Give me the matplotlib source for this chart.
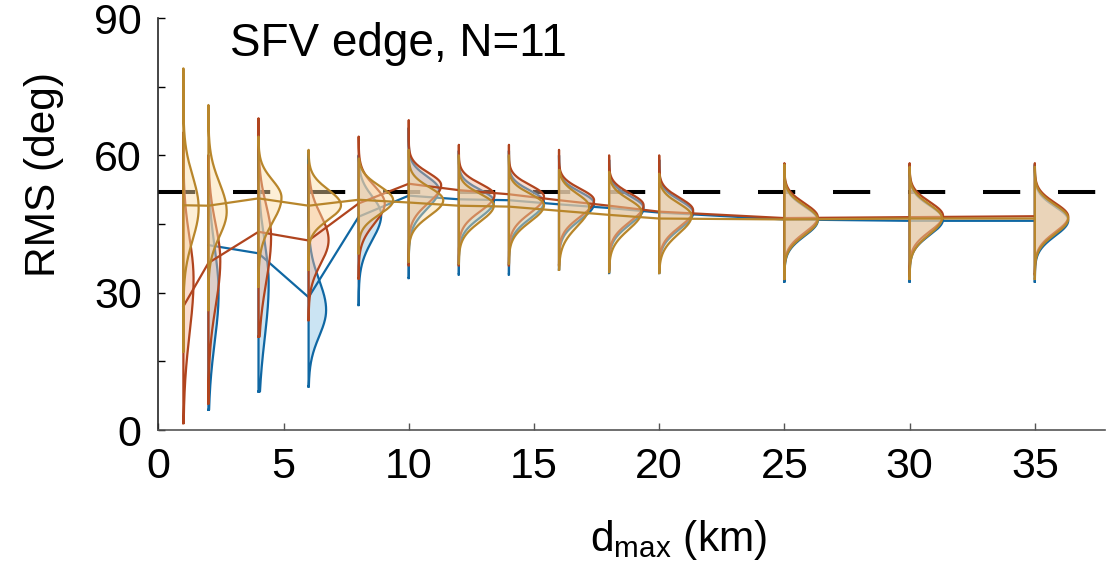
import numpy as np
import matplotlib
matplotlib.use("Agg")
import matplotlib.pyplot as plt

# d_max positions (km)
dmax = [1, 2, 4, 6, 8, 10, 12, 14, 16, 18, 20, 25, 30, 35]
nan = np.nan

# per-violin summary: peak (deg), lower/upper spread, range ends,
# and the value the connecting line passes through
blue_peak = [nan, 30, 32, 26.2, 47, 52.5, 50, 49.8, 49.5, 48.5, 47.5, 45.8, 46, 45.8]
blue_slo = [nan, 11, 12, 5.7, 5.5, 4.2, 3.6, 3.6, 3.6, 3.6, 3.6, 3.4, 3.4, 3.4]
blue_shi = [nan, 10, 9, 6.5, 4.0, 2.9, 2.5, 2.5, 2.5, 2.6, 2.7, 3.0, 3.0, 3.0]
blue_min = [nan, 4.4, 8.4, 9.5, 27.3, 33.2, 34, 34, 35, 34.3, 34.3, 32.4, 32.4, 32.4]
blue_max = [nan, 60, 62, 61, 60, 66, 61, 61, 60, 59, 59, 58, 58, 58]
blue_line = [nan, 40.4, 38.6, 29, 46.6, 51.2, 50.4, 50.2, 49.3, 48.5, 47.5, 46, 45.7, 45.7]

red_peak = [33, 37, 42.2, 41.5, 49.5, 53.5, 51.3, 51, 50.2, 49.1, 48, 46.5, 46.8, 46.6]
red_slo = [12, 10, 10, 5.2, 4.4, 3.9, 3.5, 3.6, 3.6, 3.6, 3.6, 3.4, 3.4, 3.4]
red_shi = [9, 8, 7, 5.5, 3.8, 2.7, 2.5, 2.5, 2.5, 2.6, 2.7, 3.0, 3.0, 3.0]
red_min = [1.5, 5.8, 20.4, 24, 33.1, 36, 36, 36, 36, 35, 35, 33, 33.5, 34]
red_max = [65, 60, 68.1, 58, 64.1, 67.7, 62.3, 62.3, 61.2, 60, 60, 58.3, 58.3, 58.3]
red_line = [27, 36.5, 43.3, 41.4, 49.5, 53.8, 52.4, 51.5, 50.2, 49, 47.7, 46.3, 46.5, 46.7]

gold_peak = [48.5, 47.7, 50.8, 49.1, 50.2, 50.2, 49.1, 49.1, 48.8, 47.7, 46.8, 46, 46.3, 46.2]
gold_slo = [7, 5.4, 5.5, 3.2, 3.1, 3.4, 3.6, 3.6, 4.3, 3.9, 3.9, 3.4, 3.6, 3.4]
gold_shi = [7, 6.3, 3.8, 3.4, 3.1, 2.8, 2.5, 2.5, 2.8, 2.7, 2.7, 3.0, 3.0, 3.0]
gold_min = [17.1, 26.2, 31.3, 35, 38.6, 36.8, 36.4, 36.4, 35, 34.5, 34.3, 33, 33, 33]
gold_max = [79, 71, 64.1, 61.2, 59.3, 61.2, 60, 60, 56.8, 56.4, 56, 58, 57.5, 57.5]
gold_line = [49.1, 49, 50.6, 49, 50.3, 49.7, 49, 48.8, 47.9, 47, 46.2, 46, 46.2, 46.2]

ref_rms = 52

WSCALE = 10.7   # x-units per unit of density

plt.rcParams["font.family"] = ["Liberation Sans", "DejaVu Sans"]
plt.rcParams["lines.scale_dashes"] = False

fig = plt.figure(figsize=(11.15, 5.63), dpi=100)
ax = fig.add_axes([0.142, 0.2362, 0.991 - 0.142, 0.968 - 0.2362])

ax.plot([0, 37.8], [ref_rms, ref_rms], color="black", lw=2.9,
        dashes=(26.8, 27.2), zorder=1)


def half_violin(x0, pk, slo, shi, lo, hi, lc, fc, z):
    y = np.linspace(lo, hi, 300)
    dens = np.where(y < pk, np.exp(-0.5 * ((y - pk) / slo) ** 2),
                    np.exp(-0.5 * ((y - pk) / shi) ** 2))
    dens = dens * 2 / (np.sqrt(2 * np.pi) * (slo + shi))
    xs = np.concatenate([[x0], x0 + WSCALE * dens, [x0], [x0]])
    ys = np.concatenate([[lo], y, [hi], [lo]])
    ax.fill(xs, ys, color=fc, alpha=0.45, lw=0, zorder=z)
    ax.plot(xs, ys, color=lc, lw=1.6, zorder=z + 0.1, solid_joinstyle="round")


series = [
    (blue_peak, blue_slo, blue_shi, blue_min, blue_max, blue_line, "#0F67A3", "#8CC4E6"),
    (red_peak, red_slo, red_shi, red_min, red_max, red_line, "#B0441E", "#F4B596"),
    (gold_peak, gold_slo, gold_shi, gold_min, gold_max, gold_line, "#B8862B", "#FBDDA6"),
]

for k, (pk, slo, shi, lo, hi, ln, lc, fc) in enumerate(series):
    z = 2 + k
    for i, x0 in enumerate(dmax):
        if np.isnan(pk[i]):
            continue
        half_violin(x0, pk[i], slo[i], shi[i], lo[i], hi[i], lc, fc, z)
    ax.plot(dmax, ln, color=lc, lw=1.6, zorder=z + 0.2)

ax.set_xlim(0, 37.8)
ax.set_ylim(0, 90)
ax.set_xticks(range(0, 36, 5))
ax.set_yticks([0, 30, 60, 90])
ax.set_yticks([15, 45, 75], minor=True)
ax.tick_params(axis="both", which="both", direction="in", length=5, width=1,
               labelsize=31, pad=12)
ax.tick_params(axis="x", colors="#555555", labelcolor="black")
ax.spines["top"].set_visible(False)
ax.spines["right"].set_visible(False)
ax.spines["left"].set_color("#262626")
ax.spines["bottom"].set_color("#555555")
ax.spines["left"].set_linewidth(1.2)
ax.spines["bottom"].set_linewidth(1.2)

ax.set_ylabel("RMS (deg)", fontsize=30.5)
ax.yaxis.set_label_coords(-0.121, 0.619)
ax.set_xlabel(r"d$_{\mathregular{max}}$ (km)", fontsize=30.5)
ax.xaxis.set_label_coords(0.549, -0.267)
ax.xaxis.label.set_va("center")
ax.yaxis.label.set_va("center")
ax.text(2.85, 84.3, "SFV edge, N=11", fontsize=33, va="center", ha="left")

fig.savefig("out.png", dpi=100)
